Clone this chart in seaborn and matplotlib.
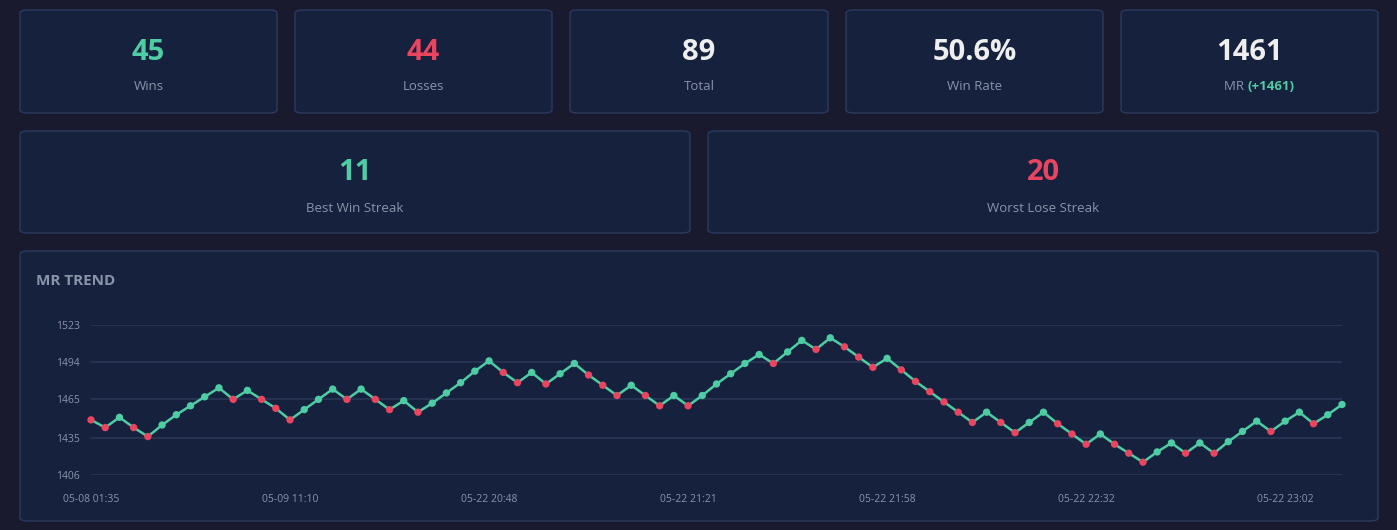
import numpy as np
import pandas as pd
import seaborn as sns
import matplotlib
matplotlib.use("Agg")
import matplotlib.pyplot as plt
from matplotlib.patches import FancyBboxPatch

# --- data ---
mr = [1449, 1443, 1451, 1443, 1436, 1445, 1453, 1460, 1467, 1474,
      1465, 1472, 1465, 1458, 1449, 1457, 1465, 1473, 1465, 1473,
      1465, 1457, 1464, 1455, 1462, 1470, 1478, 1487, 1495, 1486,
      1478, 1486, 1477, 1485, 1493, 1484, 1476, 1468, 1476, 1468,
      1460, 1468, 1460, 1468, 1477, 1485, 1493, 1500, 1493, 1502,
      1511, 1504, 1513, 1506, 1498, 1490, 1497, 1488, 1479, 1471,
      1463, 1455, 1447, 1455, 1447, 1439, 1447, 1455, 1446, 1438,
      1430, 1438, 1430, 1423, 1416, 1424, 1431, 1423, 1431, 1423,
      1432, 1440, 1448, 1440, 1448, 1455, 1446, 1453, 1461]
results = list("LLWLLWWWWWLWLLLWWWLWLLWLWWWWWLLWLWWLLLWLLWLWWWWWLWWLWLLLWLLLLLLWLLWWLLLWLLLWWLWLWWWLWWLWW")
tick_idx = [0, 14, 28, 42, 56, 70, 84]
tick_labels = ["05-08 01:35", "05-09 11:10", "05-22 20:48", "05-22 21:21",
               "05-22 21:58", "05-22 22:32", "05-22 23:02"]
y_ticks = [1406, 1435, 1465, 1494, 1523]

card_top = [("45", "Wins", "green"), ("44", "Losses", "red"), ("89", "Total", "white"),
            ("50.6%", "Win Rate", "white"), ("1461", "MR", "white")]
card_mid = [("11", "Best Win Streak", "green"), ("20", "Worst Lose Streak", "red")]

BG = "#1a1a2e"
CARD = "#16213e"
EDGE = "#2b3a5f"
GREEN = "#4ecca3"
RED = "#e94560"
WHITE = "#eeeeee"
GRAY = "#8a93a8"
cmap = {"green": GREEN, "red": RED, "white": WHITE}

sns.set_style("dark")
plt.rcParams["font.family"] = ["Open Sans", "DejaVu Sans"]

W, H = 1397, 530
fig = plt.figure(figsize=(W / 100, H / 100), dpi=100, facecolor=BG)


def card(x0, y0, x1, y1):
    # pixel coords, origin top-left
    p = FancyBboxPatch((x0 / W, 1 - y1 / H), (x1 - x0) / W, (y1 - y0) / H,
                       boxstyle="round,pad=0,rounding_size=0.006",
                       transform=fig.transFigure, facecolor=CARD, edgecolor=EDGE,
                       linewidth=1, zorder=-5)
    fig.patches.append(p)


def txt(x, y, s, **kw):
    fig.text(x / W, 1 - y / H, s, ha="center", va="center", **kw)


# top row cards
xs = [(20, 277), (295, 552), (570, 828), (846, 1103), (1121, 1378)]
for (x0, x1), (val, lab, col) in zip(xs, card_top):
    card(x0, 10, x1, 113)
    cx = (x0 + x1) / 2
    txt(cx, 52, val, color=cmap[col], fontsize=21, fontweight="bold")
    if lab == "MR":
        fig.text((cx - 2) / W, 1 - 87 / H, "MR ", ha="right", va="center", color=GRAY, fontsize=9.5)
        fig.text((cx - 2) / W, 1 - 87 / H, "(+1461)", ha="left", va="center",
                 color=GREEN, fontsize=9.5, fontweight="bold")
    else:
        txt(cx, 87, lab, color=GRAY, fontsize=9.5)

# middle row cards
for (x0, x1), (val, lab, col) in zip([(20, 690), (708, 1378)], card_mid):
    card(x0, 131, x1, 233)
    cx = (x0 + x1) / 2
    txt(cx, 173, val, color=cmap[col], fontsize=21, fontweight="bold")
    txt(cx, 208, lab, color=GRAY, fontsize=9.5)

# chart card
card(20, 251, 1378, 521)
fig.text(36 / W, 1 - 281 / H, "MR TREND", ha="left", va="center", color=GRAY,
         fontsize=11, fontweight="bold")

df = pd.DataFrame({"game": np.arange(len(mr)), "mr": mr,
                   "result": ["Win" if r == "W" else "Loss" for r in results]})

ax = fig.add_axes([91 / W, 1 - 475 / H, (1342 - 91) / W, 150 / H])
ax.set_zorder(5)
ax.set_facecolor("none")
sns.lineplot(data=df, x="game", y="mr", color=GREEN, linewidth=1.8, ax=ax, zorder=2)
sns.scatterplot(data=df, x="game", y="mr", hue="result",
                palette={"Win": GREEN, "Loss": RED}, s=28, edgecolor="none",
                legend=False, ax=ax, zorder=3, clip_on=False)
ax.set_xlim(0, len(mr) - 1)
ax.set_ylim(1406, 1523)
ax.set_yticks(y_ticks)
ax.set_yticklabels([str(v) for v in y_ticks])
ax.set_xticks(tick_idx)
ax.set_xticklabels(tick_labels)
ax.tick_params(colors=GRAY, labelsize=7.5, length=0)
ax.tick_params(axis="y", pad=8)
ax.tick_params(axis="x", pad=14)
ax.grid(axis="y", color="#2a3656", linewidth=1.2)
ax.grid(axis="x", visible=False)
for s in ax.spines.values():
    s.set_visible(False)
ax.set_xlabel("")
ax.set_ylabel("")

fig.savefig("out.png", dpi=100, facecolor=BG)
